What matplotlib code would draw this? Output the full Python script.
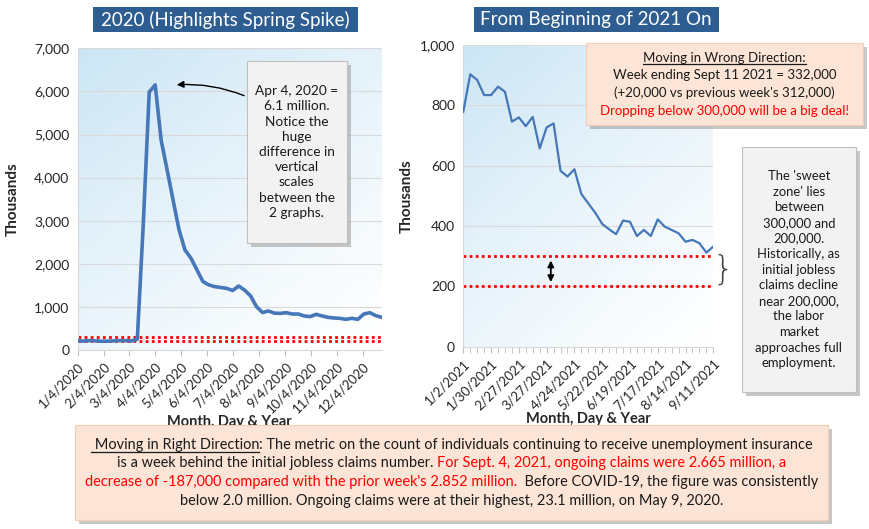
import numpy as np
import pandas as pd
import matplotlib
matplotlib.use("Agg")
import matplotlib.pyplot as plt
from matplotlib.patches import Rectangle
from matplotlib.lines import Line2D
from matplotlib.ticker import FuncFormatter

plt.rcParams['font.family'] = ['Lato', 'DejaVu Sans']

# weekly initial jobless claims, thousands
dates_2020 = pd.date_range('2020-01-04', periods=52, freq='7D')
claims_2020 = [214, 207, 220, 212, 203, 206, 211, 219, 217, 211, 251,
               2920, 5985, 6150, 4870, 4180, 3480, 2790, 2320, 2130, 1860,
               1590, 1510, 1470, 1450, 1430, 1380, 1485, 1390, 1255, 1005,
               870, 905, 855, 850, 866, 835, 835, 790, 775, 828,
               790, 758, 742, 735, 711, 735, 711, 835, 866, 797, 758]
month_ticks_2020 = [pd.Timestamp(2020, m, 4) for m in range(1, 13)]
month_labels_2020 = [f"{m}/4/2020" for m in range(1, 13)]

weeks_2021 = [d.strftime('%-m/%-d/%Y') for d in pd.date_range('2021-01-02', periods=37, freq='7D')]
claims_2021 = [779, 903, 884, 834, 834, 862, 845, 746, 760, 731, 762, 657, 727,
               740, 583, 564, 588, 506, 475, 444, 407, 389, 373, 418, 414, 367,
               387, 367, 422, 398, 387, 376, 348, 354, 343, 312, 332]
sweet_zone = [200, 300]

W, H = 870, 529
fig = plt.figure(figsize=(8.7, 5.29), dpi=100)
LINE = '#4677B8'
TITLE_BG = '#2E5D91'


def px_axes(x0, y0, x1, y1):
    return fig.add_axes([x0 / W, 1 - y1 / H, (x1 - x0) / W, (y1 - y0) / H])


def px_box(x0, y0, x1, y1, fc, ec='none', shadow=True, z=10):
    if shadow:
        fig.patches.append(Rectangle(((x0 + 4) / W, 1 - (y1 + 4) / H), (x1 - x0) / W, (y1 - y0) / H,
                                     transform=fig.transFigure, fc='#9a9a9a', ec='none', alpha=0.55, zorder=z - 1))
    fig.patches.append(Rectangle((x0 / W, 1 - y1 / H), (x1 - x0) / W, (y1 - y0) / H,
                                 transform=fig.transFigure, fc=fc, ec=ec, lw=0.8, zorder=z))


def ftext(x, y, s, **kw):
    return fig.text(x / W, 1 - y / H, s, **kw)


def shade(ax):
    u = np.linspace(0, 1, 300)
    v = np.linspace(1, 0, 300)
    U, V = np.meshgrid(u, v)
    t = np.clip(((1 - U) * 0.55 + V * 0.75) / 1.3, 0, 1) ** 1.2
    top = np.array([0.80, 0.90, 0.96])
    img = 1 - t[..., None] * (1 - top)
    ax.imshow(img, extent=[0, 1, 0, 1], transform=ax.transAxes, aspect='auto', zorder=0)


def style(ax):
    for s in ['top', 'right']:
        ax.spines[s].set_visible(False)
    for s in ['left', 'bottom']:
        ax.spines[s].set_color('#D9D9D9')
    ax.grid(axis='y', color='#D9D9D9', lw=0.8, zorder=1)
    ax.set_axisbelow(True)
    ax.tick_params(axis='y', length=0, labelsize=10, colors='#262626', pad=6)
    ax.tick_params(axis='x', which='both', length=4, color='#BFBFBF', labelsize=9.5,
                   labelcolor='#262626')
    ax.yaxis.set_major_formatter(FuncFormatter(lambda v, p: f"{int(v):,}"))
    ax.set_ylabel('Thousands', fontsize=11, fontweight='bold', color='#262626')
    ax.set_xlabel('Month, Day & Year', fontsize=10.5, fontweight='bold', color='#262626', labelpad=0)
    for lab in ax.get_xticklabels():
        lab.set_rotation(45)
        lab.set_ha('right')
        lab.set_rotation_mode('anchor')


# ---- left chart: 2020
ax1 = px_axes(77.7, 48.3, 381.7, 350)
shade(ax1)
ax1.plot(dates_2020, claims_2020, color=LINE, lw=2.6, zorder=3)
for lvl in sweet_zone:
    ax1.axhline(lvl, color='#FF0000', ls=(0, (1, 1.2)), lw=2, zorder=2)
ax1.set_xlim(dates_2020[0], dates_2020[-1])
ax1.set_ylim(0, 7000)
ax1.set_yticks(range(0, 7001, 1000))
ax1.set_xticks(month_ticks_2020)
ax1.set_xticklabels(month_labels_2020)
style(ax1)
ax1.yaxis.set_label_coords(-0.19, 0.5)

# ---- right chart: 2021
ax2 = px_axes(463.3, 45, 713.3, 346.7)
shade(ax2)
x2 = np.arange(len(claims_2021))
ax2.plot(x2, claims_2021, color=LINE, lw=1.6, zorder=3)
for lvl in sweet_zone:
    ax2.axhline(lvl, color='#FF0000', ls=(0, (1, 1.2)), lw=2, zorder=2)
ax2.annotate('', xy=(12.6, 205), xytext=(12.6, 295),
             arrowprops=dict(arrowstyle='<|-|>', color='black', lw=1.3, mutation_scale=9))
ax2.set_xlim(0, len(claims_2021) - 1)
ax2.set_ylim(0, 1000)
ax2.set_yticks(range(0, 1001, 200))
ax2.set_xticks(x2[::4])
ax2.set_xticks(x2, minor=True)
ax2.set_xticklabels(weeks_2021[::4])
style(ax2)
ax2.yaxis.set_label_coords(-0.2, 0.5)

# ---- titles
px_box(93.3, 6.7, 357.7, 32.3, TITLE_BG, shadow=False)
ftext(225.5, 19.5, '2020 (Highlights Spring Spike)', color='white', fontsize=13.5,
      ha='center', va='center', zorder=11)
px_box(474, 6.7, 718.7, 32.3, TITLE_BG, shadow=False)
ftext(596.3, 19.5, 'From Beginning of 2021 On', color='white', fontsize=13.5,
      ha='center', va='center', zorder=11)

# ---- left note with arrow
px_box(246.7, 61, 346.7, 243, '#F2F2F2', '#BFBFBF')
ftext(296.7, 152, 'Apr 4, 2020 =\n6.1 million.\nNotice the\nhuge\ndifference in\nvertical\nscales\nbetween the\n2 graphs.',
      ha='center', va='center', fontsize=9.8, linespacing=1.32, color='#1a1a1a', zorder=11)
fig.add_artist(matplotlib.patches.FancyArrowPatch(
    (246.7 / W, 1 - 96.7 / H), (174 / W, 1 - 85 / H), transform=fig.transFigure,
    arrowstyle='-|>', mutation_scale=10, connectionstyle='arc3,rad=0.12', color='black', lw=1, zorder=12))

# ---- right top note
NOTE = 9.5
px_box(585.7, 42.7, 863, 125, '#FCE4D6', '#F4CDB6')
t_head = ftext(724.3, 57.5, 'Moving in Wrong Direction:', ha='center', va='center', fontsize=NOTE,
               color='#1a1a1a', zorder=11)
ftext(724.3, 75.2, 'Week ending Sept 11 2021 = 332,000', ha='center', va='center', fontsize=NOTE,
      color='#1a1a1a', zorder=11)
ftext(724.3, 92.9, "(+20,000 vs previous week's 312,000)", ha='center', va='center', fontsize=NOTE,
      color='#1a1a1a', zorder=11)
ftext(724.3, 110.6, 'Dropping below 300,000 will be a big deal!', ha='center', va='center', fontsize=NOTE,
      color='#FF0000', zorder=11)

# ---- right side note
px_box(741.7, 147, 856, 391.7, '#F2F2F2', '#BFBFBF')
ftext(798.8, 269.5, "The 'sweet\nzone' lies\nbetween\n300,000 and\n200,000.\nHistorically, as\ninitial jobless\n"
      "claims decline\nnear 200,000,\nthe labor\nmarket\napproaches full\nemployment.",
      ha='center', va='center', fontsize=9.4, linespacing=1.36, color='#1a1a1a', zorder=11)
ftext(723, 270, '}', ha='center', va='center', fontsize=24, color='#404040',
      family='DejaVu Sans', fontweight='light', zorder=11)

# ---- bottom note
px_box(75, 425, 828.3, 520, '#FCE4D6', '#F4CDB6')
RED = '#FF0000'
BLK = '#1a1a1a'
bottom_lines = [
    [(' Moving in Right Direction', BLK, True),
     (': The metric on the count of individuals continuing to receive unemployment insurance', BLK, False)],
    [('is a week behind the initial jobless claims number. ', BLK, False),
     ('For Sept. 4, 2021, ongoing claims were 2.665 million, a', RED, False)],
    [("decrease of -187,000 compared with the prior week's 2.852 million.", RED, False),
     ('  Before COVID-19, the figure was consistently', BLK, False)],
    [('below 2.0 million. Ongoing claims were at their highest, 23.1 million, on May 9, 2020.', BLK, False)],
]

fig.canvas.draw()
rend = fig.canvas.get_renderer()


def seg_width(s, size):
    a = fig.text(0, 0, '|' + s + '|', fontsize=size)
    b = fig.text(0, 0, '||', fontsize=size)
    w = a.get_window_extent(rend).width - b.get_window_extent(rend).width
    a.remove()
    b.remove()
    return w


def underline(x0, x1, y):
    fig.add_artist(Line2D([x0 / W, x1 / W], [1 - y / H, 1 - y / H], transform=fig.transFigure,
                          color=BLK, lw=0.9, zorder=12))


# underline the heading of the top-right note
bb = t_head.get_window_extent(rend)
underline(bb.x0, bb.x1, 64.5)

bsize = 10.5
full = sum(seg_width(s, bsize) for s, c, u in bottom_lines[0])
bsize = bsize * 726 / full
line_y = [444.5, 463.3, 482.1, 500.9]
for y, segs in zip(line_y, bottom_lines):
    ws = [seg_width(s, bsize) for s, c, u in segs]
    x = 451.6 - sum(ws) / 2
    for (s, c, u), w in zip(segs, ws):
        ftext(x, y, s, color=c, fontsize=bsize, ha='left', va='center', zorder=11)
        if u:
            underline(x, x + w, y + 7.5)
        x += w

fig.savefig('out.png', dpi=100)
